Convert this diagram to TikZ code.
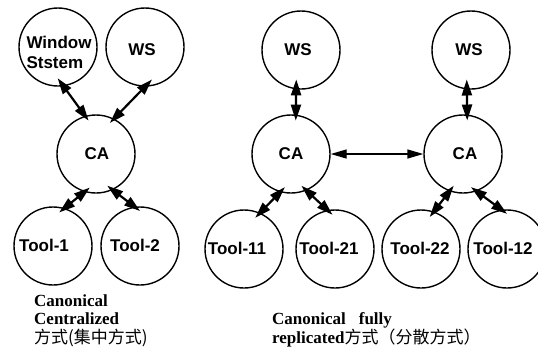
\documentclass[tikz,border=0pt]{standalone}
\usepackage{fontspec}
\setmainfont{Liberation Serif}
\newfontfamily\labfont{Liberation Sans}
\newfontfamily\cjk{Noto Sans CJK SC}
\usetikzlibrary{arrows.meta}
\begin{document}
\begin{tikzpicture}[x=1pt,y=-1pt,
  circ/.style={draw, circle, line width=1.4pt, minimum size=78pt, inner sep=0pt},
  lab/.style={font=\labfont\bfseries\fontsize{17}{20}\selectfont, inner sep=0pt, align=left},
  dbl/.style={line width=2.2pt, {Triangle[length=16pt,width=10pt]}-{Triangle[length=16pt,width=10pt]}, shorten <=-7pt, shorten >=-7pt},
  dbltop/.style={dbl, shorten <=-10pt, shorten >=-6pt},
  dblmid/.style={line width=1.4pt, {Triangle[length=16pt,width=9pt]}-{Triangle[length=16pt,width=9pt]}},
  capt/.style={font=\bfseries\fontsize{17}{20}\selectfont, inner sep=0pt, anchor=base west}]
\useasboundingbox (0,0) rectangle (538,346);
\clip (0,0) rectangle (538,346);
% left group
\node[circ] (WSys) at (58,47) {};
\node[circ] (WS) at (145,47) {};
\node[circ] (CA) at (96,154) {};
\node[circ] (T1) at (53,246) {};
\node[circ] (T2) at (140,246) {};
\node[lab] (lWSys) at (59,52) {Window\\Ststem};
\node[lab] (lWS) at (142,50) {WS};
\node[lab] (lCA) at (97,154) {CA};
\node[lab] (lT1) at (44,245) {Tool-1};
\node[lab] (lT2) at (135,245) {Tool-2};
\draw[dbltop] (WSys.278) -- (CA.106);
\draw[dbltop] (WS.270) -- (CA.63);
\draw[dbl] (CA.253) -- (T1.73);
\draw[dbl] (CA.295) -- (T2.98);
% right group
\node[circ] (WS1) at (301,50) {};
\node[circ] (WS2) at (471,50) {};
\node[circ] (CA1) at (291,154) {};
\node[circ] (CA2) at (463,154) {};
\node[circ] (T11) at (244,249) {};
\node[circ] (T21) at (335,249) {};
\node[circ] (T22) at (421,249) {};
\node[circ] (T12) at (507,249) {};
\node[lab] (lWS1) at (298,50) {WS};
\node[lab] (lWS2) at (469,50) {WS};
\node[lab] (lCA1) at (291,154) {CA};
\node[lab] (lCA2) at (465,154) {CA};
\node[lab] (lT11) at (237,248) {Tool-11};
\node[lab] (lT21) at (329,248) {Tool-21};
\node[lab] (lT22) at (420,248) {Tool-22};
\node[lab] (lT12) at (503,248) {Tool-12};
\draw[dbltop] (WS1.263) -- (CA1.83);
\draw[dbltop] (WS2.264) -- (CA2.84);
\draw[dblmid] (CA1.east) -- (CA2.west);
\draw[dbl] (CA1.254) -- (T11.66);
\draw[dbl] (CA1.293) -- (T21.101);
\draw[dbl] (CA2.250) -- (T22.71);
\draw[dbl] (CA2.290) -- (T12.98);
% captions
\node[capt] (c1) at (34,306) {Canonical};
\node[capt] (c2) at (34,324) {Centralized};
\node[capt] (c3) at (34,343) {{\cjk\mdseries\fontsize{17}{20}\selectfont 方式(集中方式)}};
\node[capt] (c4) at (272,324) {Canonical\hspace{13pt}fully};
\node[capt] (c5) at (272,343) {replicated{\cjk\mdseries\fontsize{17}{20}\selectfont 方式（分散方式）}};
\end{tikzpicture}
\end{document}
